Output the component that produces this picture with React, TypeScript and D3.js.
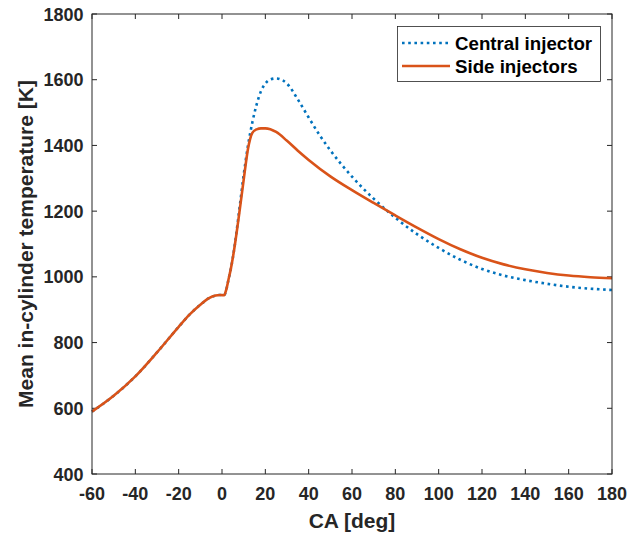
import React, { useRef, useEffect } from 'react';
import * as d3 from 'd3';

// crank angle [deg] and mean in-cylinder temperature [K]
const caCentral = [-60, -50, -40, -30, -20, -15, -10, -6, -3, -1, 1, 2, 3, 4, 5, 6, 8, 10, 12, 14, 16, 18, 20, 22, 25, 28, 30, 35, 40, 45, 50, 55, 60, 65, 70, 80, 90, 100, 110, 120, 130, 140, 150, 160, 170, 180];
const tCentral = [590, 638, 697, 770, 848, 885, 915, 935, 943, 945, 944, 962, 992, 1022, 1058, 1102, 1205, 1310, 1400, 1470, 1525, 1565, 1588, 1600, 1604, 1598, 1588, 1540, 1485, 1432, 1385, 1343, 1305, 1270, 1238, 1180, 1130, 1088, 1052, 1024, 1004, 990, 979, 970, 964, 960];

const caSide = [-60, -50, -40, -30, -20, -15, -10, -6, -3, -1, 1, 2, 3, 4, 5, 6, 8, 10, 12, 13, 14, 16, 18, 20, 25, 30, 35, 40, 50, 60, 70, 80, 90, 100, 110, 120, 130, 140, 150, 160, 170, 180];
const tSide = [590, 638, 697, 770, 848, 885, 915, 935, 943, 945, 944, 962, 992, 1022, 1058, 1100, 1195, 1295, 1390, 1420, 1438, 1449, 1452, 1452, 1441, 1414, 1384, 1356, 1306, 1264, 1225, 1187, 1150, 1115, 1084, 1058, 1038, 1023, 1012, 1004, 999, 996];

const xTicks = d3.range(-60, 181, 20);
const yTicks = d3.range(400, 1801, 200);

const seriesNames = ['Central injector', 'Side injectors'];
const seriesColors = ['#0072BD', '#D95319'];

export default function App() {
  const ref = useRef<SVGSVGElement>(null);

  useEffect(() => {
    const W = 641, H = 534;
    const left = 92, right = 612, top = 14, bottom = 474;
    const svg = d3.select(ref.current);
    svg.selectAll('*').remove();
    svg.attr('width', W).attr('height', H);

    const x = d3.scaleLinear().domain([-60, 180]).range([left, right]);
    const y = d3.scaleLinear().domain([400, 1800]).range([bottom, top]);
    const font = 'Arial, "Liberation Sans", sans-serif';
    const axisColor = '#262626';

    svg.append('rect').attr('x', 0).attr('y', 0).attr('width', W).attr('height', H).attr('fill', '#fff');

    // ticks inside on all four sides (box on)
    const g = svg.append('g');
    xTicks.forEach(t => {
      g.append('line').attr('x1', x(t)).attr('x2', x(t)).attr('y1', bottom).attr('y2', bottom - 5).attr('stroke', axisColor);
      g.append('line').attr('x1', x(t)).attr('x2', x(t)).attr('y1', top).attr('y2', top + 5).attr('stroke', axisColor);
      g.append('text').attr('x', x(t)).attr('y', bottom + 26).attr('text-anchor', 'middle')
        .style('font-family', font).style('font-weight', 'bold').style('font-size', '18px').attr('fill', axisColor).text(t);
    });
    yTicks.forEach(t => {
      g.append('line').attr('x1', left).attr('x2', left + 5).attr('y1', y(t)).attr('y2', y(t)).attr('stroke', axisColor);
      g.append('line').attr('x1', right).attr('x2', right - 5).attr('y1', y(t)).attr('y2', y(t)).attr('stroke', axisColor);
      g.append('text').attr('x', left - 8.5).attr('y', y(t) + 6.5).attr('text-anchor', 'end')
        .style('font-family', font).style('font-weight', 'bold').style('font-size', '18px').attr('fill', axisColor).text(t);
    });

    const line = d3.line<[number, number]>().x(d => x(d[0])).y(d => y(d[1])).curve(d3.curveMonotoneX);
    const central = caCentral.map((c, i) => [c, tCentral[i]] as [number, number]);
    const side = caSide.map((c, i) => [c, tSide[i]] as [number, number]);

    svg.append('path').datum(central)
      .attr('fill', 'none').attr('stroke', seriesColors[0]).attr('stroke-width', 2.6)
      .attr('stroke-dasharray', '2.6,3.6').attr('d', line);
    svg.append('path').datum(side)
      .attr('fill', 'none').attr('stroke', seriesColors[1]).attr('stroke-width', 2.6).attr('d', line);

    svg.append('rect').attr('x', left).attr('y', top).attr('width', right - left).attr('height', bottom - top)
      .attr('fill', 'none').attr('stroke', axisColor).attr('stroke-width', 1);

    // legend
    const lg = svg.append('g');
    lg.append('rect').attr('x', 397.5).attr('y', 26.5).attr('width', 203).attr('height', 55)
      .attr('fill', '#fff').attr('stroke', '#262626').attr('stroke-width', 0.8);
    seriesNames.forEach((name, i) => {
      const yy = 43 + i * 23;
      lg.append('line').attr('x1', 402).attr('x2', 450).attr('y1', yy).attr('y2', yy)
        .attr('stroke', seriesColors[i]).attr('stroke-width', 2.6)
        .attr('stroke-dasharray', i === 0 ? '2.6,3.6' : null);
      lg.append('text').attr('x', 455).attr('y', yy + 6.5)
        .style('font-family', font).style('font-weight', 'bold').style('font-size', '18.7px').attr('fill', '#000').text(name);
    });

    svg.append('text').attr('x', (left + right) / 2).attr('y', 528).attr('text-anchor', 'middle')
      .style('font-family', font).style('font-weight', 'bold').style('font-size', '21px').attr('fill', axisColor).text('CA [deg]');
    svg.append('text').attr('transform', `translate(33,${(top + bottom) / 2}) rotate(-90)`).attr('text-anchor', 'middle')
      .style('font-family', font).style('font-weight', 'bold').style('font-size', '21px').attr('fill', axisColor).text('Mean in-cylinder temperature [K]');
  }, []);

  return <svg ref={ref} style={{ position: 'absolute', left: 0, top: 0 }}></svg>;
}
